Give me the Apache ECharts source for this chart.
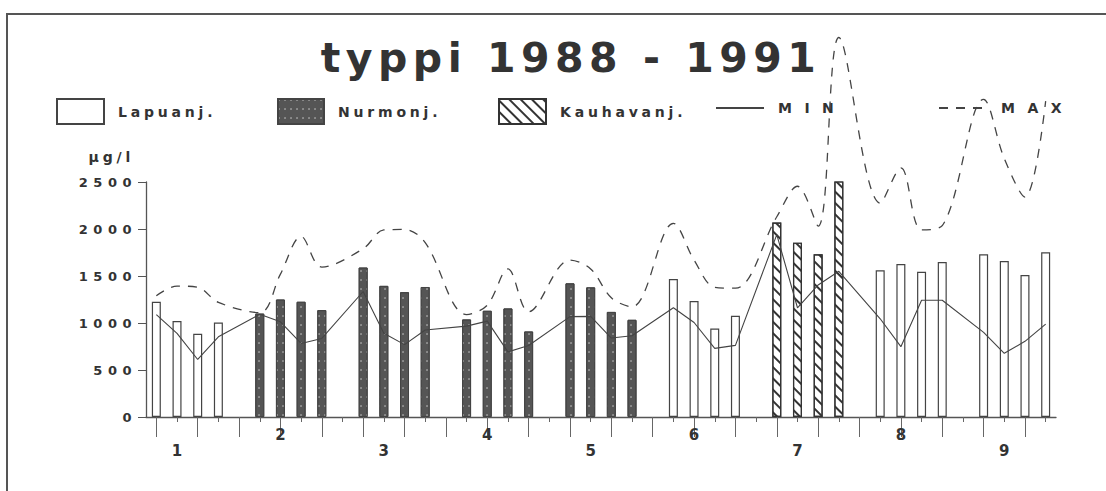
<!DOCTYPE html>
<html>
<head>
<meta charset="utf-8">
<script src="https://cdn.jsdelivr.net/npm/echarts@6/dist/echarts.min.js"></script>
<style>
  html, body { margin: 0; padding: 0; background: #fff; }
  #chart { width: 1106px; height: 491px; }
  #chart text[style*="41px"] { letter-spacing: 5.5px; }
  #chart text[style*="14px"] { letter-spacing: 3.8px; }
  #chart text[style*="13px"] { letter-spacing: 5.5px; }
</style>
</head>
<body>
<div id="chart"></div>
<script>
// ---- data (µg/l), four years per group ----
const titleText = 'typpi 1988 - 1991';
const years = ['1988', '1989', '1990', '1991'];
const groupLabels = ['1', '2', '3', '4', '5', '6', '7', '8', '9'];
const yTicks = [0, 500, 1000, 1500, 2000, 2500];

const lapuanj = [[1225, 1022, 885, 1006], null, null, null, null,
  [1468, 1234, 942, 1077], null, [1560, 1628, 1546, 1649], [1731, 1660, 1511, 1752]];
const nurmonj = [null, [1100, 1250, 1226, 1137], [1590, 1395, 1328, 1383],
  [1038, 1130, 1155, 910], [1422, 1379, 1118, 1034], null, null, null, null];
const kauhavanj = [null, null, null, null, null, null, [2069, 1855, 1731, 2541], null, null];
const minValues = [[1090, 890, 612, 853], [1092, 1013, 782, 836], [1335, 890, 770, 925],
  [967, 1020, 693, 760], [1068, 1070, 840, 865], [1162, 1005, 730, 762],
  [1940, 1162, 1405, 1550], [1045, 748, 1242, 1242], [900, 678, 805, 988]];
const maxValues = [[1290, 1393, 1380, 1219], [1110, 1520, 1920, 1595], [1790, 1990, 1995, 1855],
  [1090, 1190, 1575, 1120], [1670, 1575, 1268, 1172], [2060, 1670, 1380, 1370],
  [2130, 2455, 2030, 4037], [2275, 2650, 1990, 2035], [3380, 2750, 2340, 3360]];

// ---- build slot arrays (4 bars + 1 empty slot per group) ----
const categories = [], lapData = [], nurData = [], kauData = [], minData = [], maxData = [];
groupLabels.forEach((g, gi) => {
  years.forEach((y, yi) => {
    categories.push(g + '/' + y);
    lapData.push(lapuanj[gi] ? lapuanj[gi][yi] : '-');
    nurData.push(nurmonj[gi] ? nurmonj[gi][yi] : '-');
    kauData.push(kauhavanj[gi] ? kauhavanj[gi][yi] : '-');
    minData.push(minValues[gi][yi]);
    maxData.push(maxValues[gi][yi]);
  });
  if (gi < groupLabels.length - 1) {
    categories.push(g + '/-');
    lapData.push('-'); nurData.push('-'); kauData.push('-'); minData.push('-'); maxData.push('-');
  }
});

const FONT = 'DejaVu Sans';
const INK = '#333';
const chart = echarts.init(document.getElementById('chart'), null, { renderer: 'svg' });

const legendBase = {
  top: 98, padding: 0, itemHeight: 25, selectedMode: false,
  textStyle: { fontFamily: FONT, fontWeight: 'bold', fontSize: 14, color: INK, padding: [3, 0, 0, 9] }
};
const lineLegend = { itemStyle: { opacity: 0, color: 'transparent', borderWidth: 0 } };

chart.setOption({
  animation: false,
  backgroundColor: '#fff',
  graphic: [
    { type: 'polyline', silent: true, shape: { points: [[7, 491], [7, 14], [1106, 14]] },
      style: { stroke: '#555', lineWidth: 2, fill: null } },
    { type: 'text', x: 571, y: 58, silent: true,
      style: { text: titleText, fontSize: 41, fontWeight: 'bold', fontFamily: FONT, fill: INK,
               align: 'center', textAlign: 'center', verticalAlign: 'middle', textVerticalAlign: 'middle' } }
  ],
  legend: [
    Object.assign({}, legendBase, { left: 56, itemWidth: 47, icon: 'rect', data: ['Lapuanj.'] }),
    Object.assign({}, legendBase, { left: 277, itemWidth: 46, icon: 'rect', data: ['Nurmonj.'] }),
    Object.assign({}, legendBase, { left: 498, itemWidth: 47, icon: 'rect', data: ['Kauhavanj.'] }),
    Object.assign({}, legendBase, lineLegend, { left: 715, itemWidth: 48, data: ['MIN'], formatter: () => 'M I N' }),
    Object.assign({}, legendBase, lineLegend, { left: 938, itemWidth: 48, data: ['MAX'], formatter: () => 'M A X' })
  ],
  grid: { left: 146, right: 50, top: 182, bottom: 74 },
  xAxis: [
    {
      type: 'category', data: categories, position: 'bottom', offset: 0, boundaryGap: true,
      axisLine: { show: true, lineStyle: { color: '#555', width: 1.3 } },
      axisTick: { show: true, alignWithLabel: true, length: 20, interval: (i) => i % 2 === 0,
                  lineStyle: { color: '#666', width: 1 } },
      axisLabel: {
        interval: (i) => i % 5 === 1, margin: 10,
        formatter: (v, i) => {
          const gi = Math.floor(i / 5);
          return gi % 2 === 1 ? '{hi|' + groupLabels[gi] + '}' : '{lo|' + groupLabels[gi] + '}';
        },
        rich: {
          hi: { fontFamily: FONT, fontWeight: 'bold', fontSize: 15, color: INK },
          lo: { fontFamily: FONT, fontWeight: 'bold', fontSize: 15, color: INK, padding: [16, 0, 0, 0] }
        }
      },
      splitLine: { show: false }
    },
    {
      type: 'category', data: categories, position: 'bottom', offset: 0, boundaryGap: true,
      axisLine: { show: false },
      axisTick: { show: true, alignWithLabel: true, length: 5, interval: 0, lineStyle: { color: '#666' } },
      axisLabel: { show: false }, splitLine: { show: false }
    }
  ],
  yAxis: {
    type: 'value', min: yTicks[0], max: yTicks[yTicks.length - 1], interval: yTicks[1] - yTicks[0],
    name: 'µg/l', nameLocation: 'end', nameGap: 25,
    nameTextStyle: { fontFamily: FONT, fontWeight: 'bold', fontSize: 14, color: INK,
                     align: 'right', verticalAlign: 'middle', padding: [0, 12, 0, 0] },
    axisLine: { show: true, lineStyle: { color: '#555', width: 1.3 } },
    axisTick: { show: true, length: 8, lineStyle: { color: '#555' } },
    axisLabel: { fontFamily: FONT, fontWeight: 'bold', fontSize: 13, color: INK, margin: 9,
                 formatter: (v) => String(v) },
    splitLine: { show: false }
  },
  series: [
    { name: 'Lapuanj.', type: 'bar', data: lapData, barWidth: 9, barGap: '-100%',
      itemStyle: { color: '#fff', borderColor: '#444', borderWidth: 1.2 } },
    { name: 'Nurmonj.', type: 'bar', data: nurData, barWidth: 9, barGap: '-100%',
      itemStyle: { color: '#555', borderColor: '#444', borderWidth: 1,
        decal: { symbol: 'circle', symbolSize: 0.7, color: 'rgba(255,255,255,0.75)',
                 dashArrayX: [2, 4], dashArrayY: [2, 7] } } },
    { name: 'Kauhavanj.', type: 'bar', data: kauData, barWidth: 9, barGap: '-100%',
      itemStyle: { color: '#fff', borderColor: '#333', borderWidth: 1.2,
        decal: { symbol: 'rect', symbolSize: 1, color: '#333',
                 dashArrayX: [1, 0], dashArrayY: [1.2, 5.5], rotation: Math.PI / 4 } } },
    { name: 'MIN', type: 'line', data: minData, connectNulls: true, symbol: 'none',
      lineStyle: { color: '#444', width: 1.1, type: 'solid' }, itemStyle: { color: '#444' }, z: 5 },
    { name: 'MAX', type: 'line', data: maxData, connectNulls: true, symbol: 'none', smooth: 0.35,
      clip: false,
      lineStyle: { color: '#444', width: 1.3, type: [9, 8] }, itemStyle: { color: '#444' }, z: 5 }
  ]
});
</script>
</body>
</html>
